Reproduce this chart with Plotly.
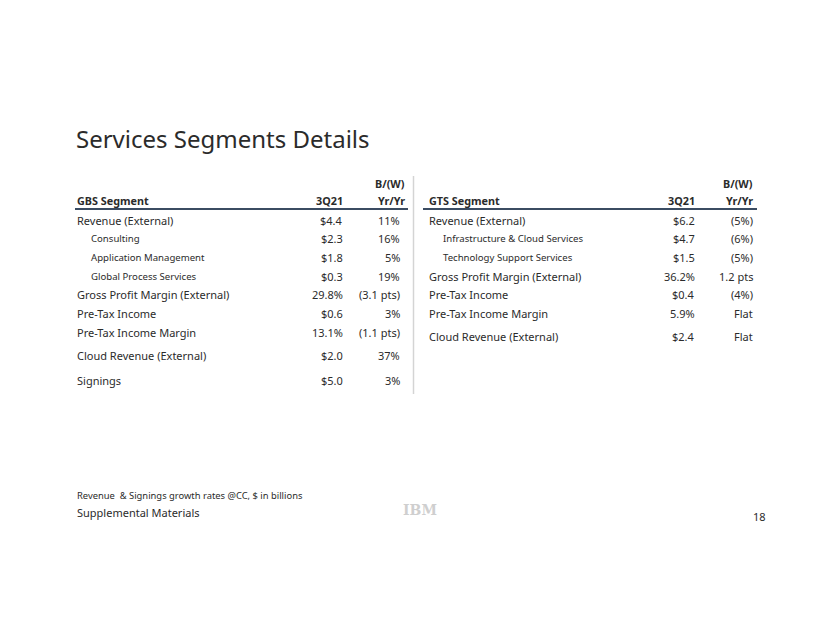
import plotly.graph_objects as go

title = "Services Segments Details"
col_headers = ["3Q21", "Yr/Yr"]
bw_header = "B/(W)"

gbs_header = "GBS Segment"
gbs_metrics = ["Revenue (External)", "Consulting", "Application Management",
               "Global Process Services", "Gross Profit Margin (External)",
               "Pre-Tax Income", "Pre-Tax Income Margin",
               "Cloud Revenue (External)", "Signings"]
gbs_3q21 = ["$4.4", "$2.3", "$1.8", "$0.3", "29.8%", "$0.6", "13.1%", "$2.0", "$5.0"]
gbs_yoy = ["11%", "16%", "5%", "19%", "(3.1 pts)", "3%", "(1.1 pts)", "37%", "3%"]
gbs_sub = [False, True, True, True, False, False, False, False, False]

gts_header = "GTS Segment"
gts_metrics = ["Revenue (External)", "Infrastructure & Cloud Services",
               "Technology Support Services", "Gross Profit Margin (External)",
               "Pre-Tax Income", "Pre-Tax Income Margin", "Cloud Revenue (External)"]
gts_3q21 = ["$6.2", "$4.7", "$1.5", "36.2%", "$0.4", "5.9%", "$2.4"]
gts_yoy = ["(5%)", "(6%)", "(5%)", "1.2 pts", "(4%)", "Flat", "Flat"]
gts_sub = [False, True, True, False, False, False, False]

footnote = "Revenue  & Signings growth rates @CC, $ in billions"
footer = "Supplemental Materials"
page_no = "18"

W, H = 822, 635
OFF = 8  # default page body margin
FONT = "Noto Sans"
TXT = "#2b2b2b"

fig = go.Figure()
ann = []
shapes = []

def t(x, y, s, size, anchor="left", bold=False, color=TXT, family=FONT):
    ann.append(dict(x=x, y=y, xref="x", yref="y", text=f"<b>{s}</b>" if bold else s,
                    showarrow=False, xanchor=anchor, yanchor="middle",
                    font=dict(family=family, size=size, color=color)))

t(74, 138, title, 24)

gbs_rows_y = [220, 238, 257, 276, 294, 313, 332, 355, 380]
gts_rows_y = [220, 238, 257, 276, 294, 313, 336]

def table(x0, line_x0, x_val, x_yoy_h, x_yoy, x_line_end, header, metrics, vals, yoys, subs, rows_y):
    t(x_yoy_h + 1, 183, bw_header, 10.8, "right", bold=True)
    t(x0 - 1, 200, header, 10.8, bold=True)
    t(x_val + 1, 200, col_headers[0], 10.8, "right", bold=True)
    t(x_yoy_h + 1, 200, col_headers[1], 10.8, "right", bold=True)
    shapes.append(dict(type="line", xref="x", yref="y", x0=line_x0, x1=x_line_end,
                       y0=209, y1=209, line=dict(color="#3b4c62", width=2)))
    for m, v, yy, s, y in zip(metrics, vals, yoys, subs, rows_y):
        if s:
            t(x0 + 13, y, m, 9.6)
        else:
            t(x0 - 1, y, m, 11)
        t(x_val + 1, y, v, 11, "right")
        t(x_yoy + 1, y, yy, 11, "right")

table(76, 75, 344, 406, 401, 408, gbs_header, gbs_metrics, gbs_3q21, gbs_yoy, gbs_sub, gbs_rows_y)
table(428, 423, 696, 754, 754, 757, gts_header, gts_metrics, gts_3q21, gts_yoy, gts_sub, gts_rows_y)

shapes.append(dict(type="line", xref="x", yref="y", x0=413.5, x1=413.5, y0=176, y1=394,
                   line=dict(color="#d4d4d4", width=1.5)))

t(75, 495, footnote, 9.4)
t(75, 512, footer, 11)
t(420, 510, "IBM", 14, "center", bold=True, color="#cfcfcf", family="DejaVu Serif")
t(768, 516, page_no, 11, "right")

fig.update_layout(
    width=W - OFF, height=H - OFF, margin=dict(l=0, r=0, t=0, b=0),
    paper_bgcolor="white", plot_bgcolor="white",
    xaxis=dict(range=[OFF, W], visible=False, fixedrange=True),
    yaxis=dict(range=[H, OFF], visible=False, fixedrange=True),
    annotations=ann, shapes=shapes, showlegend=False,
)
fig.write_html("out.html")
